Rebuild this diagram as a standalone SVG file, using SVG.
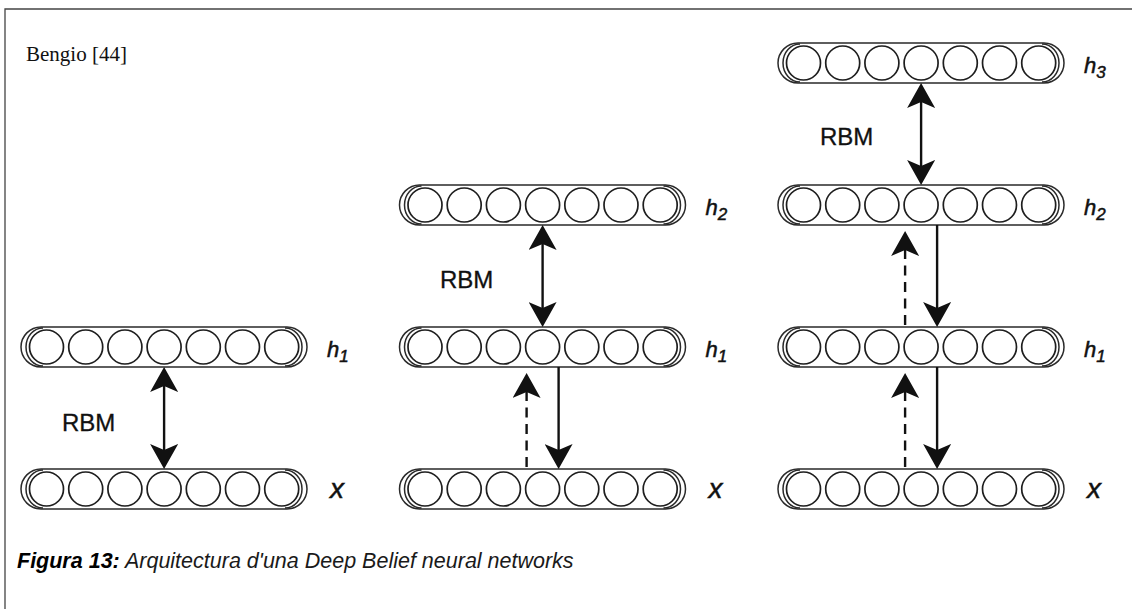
<svg xmlns="http://www.w3.org/2000/svg" xmlns:xlink="http://www.w3.org/1999/xlink" width="1132" height="609" viewBox="0 0 1132 609">
  <style>
    .frame { fill: none; stroke: #444; stroke-width: 1.3; }
    .pill { fill: none; stroke: #2a2a2a; stroke-width: 1.5; }
    .unit { fill: none; stroke: #1e1e1e; stroke-width: 1.7; }
    .link { fill: none; stroke: #111; stroke-width: 2.4; }
    .dashed { stroke-dasharray: 10 6.5; }
    .lbl { font-family: "Liberation Sans", Arial, sans-serif; font-style: italic; fill: #111; stroke: #111; stroke-width: 0.5; }
    .rbm { font-family: "Liberation Sans", Arial, sans-serif; font-size: 24px; fill: #111; stroke: #111; stroke-width: 0.3; }
    .cite { font-family: "Liberation Serif", "Times New Roman", serif; font-size: 21px; fill: #111; }
    .caption { font-family: "Liberation Sans", Arial, sans-serif; font-size: 21.5px; font-style: italic; fill: #1a1a1a; }
  </style>
  <defs>
    <!-- one layer of seven units inside a rounded bar; origin at left end, vertical centre -->
    <g id="layer">
      <rect class="pill" x="0" y="-20" width="286" height="40" rx="20" ry="20"/>
      <path class="pill" d="M22,-19 A17,19 0 0 0 22,19 M264,-19 A17,19 0 0 1 264,19"/>
      <circle class="unit" cx="25.5" cy="0" r="17"/>
      <circle class="unit" cx="64.7" cy="0" r="17"/>
      <circle class="unit" cx="103.9" cy="0" r="17"/>
      <circle class="unit" cx="143.1" cy="0" r="17"/>
      <circle class="unit" cx="182.3" cy="0" r="17"/>
      <circle class="unit" cx="221.5" cy="0" r="17"/>
      <circle class="unit" cx="260.7" cy="0" r="17"/>
    </g>
    <marker id="head" viewBox="0 0 25 28" refX="6" refY="14" markerWidth="25" markerHeight="28" markerUnits="userSpaceOnUse" orient="auto-start-reverse">
      <path d="M0,0 L25,14 L0,28 L6,14 Z" fill="#111"/>
    </marker>
  </defs>

  <rect width="1132" height="609" fill="#fff"/>
  <path class="frame" d="M5,609 V9 H1132"/>

  <text class="cite" x="26" y="61">Bengio [44]</text>

  <!-- first stack: x and h1 -->
  <g id="s1-h1">
    <use xlink:href="#layer" x="21" y="347"/>
    <text class="lbl" x="327" y="357" font-size="22">h<tspan font-size="17" dy="5">1</tspan></text>
  </g>
  <g id="s1-x">
    <use xlink:href="#layer" x="21" y="489"/>
    <text class="lbl" x="330" y="498" font-size="28">x</text>
  </g>

  <!-- second stack: x, h1, h2 -->
  <g id="s2-h2">
    <use xlink:href="#layer" x="399.5" y="205"/>
    <text class="lbl" x="705.5" y="215" font-size="22">h<tspan font-size="17" dy="5">2</tspan></text>
  </g>
  <g id="s2-h1">
    <use xlink:href="#layer" x="399.5" y="347"/>
    <text class="lbl" x="705.5" y="357" font-size="22">h<tspan font-size="17" dy="5">1</tspan></text>
  </g>
  <g id="s2-x">
    <use xlink:href="#layer" x="399.5" y="489"/>
    <text class="lbl" x="708.5" y="498" font-size="28">x</text>
  </g>

  <!-- third stack: x, h1, h2, h3 -->
  <g id="s3-h3">
    <use xlink:href="#layer" x="778" y="63"/>
    <text class="lbl" x="1084" y="73" font-size="22">h<tspan font-size="17" dy="5">3</tspan></text>
  </g>
  <g id="s3-h2">
    <use xlink:href="#layer" x="778" y="205"/>
    <text class="lbl" x="1084" y="215" font-size="22">h<tspan font-size="17" dy="5">2</tspan></text>
  </g>
  <g id="s3-h1">
    <use xlink:href="#layer" x="778" y="347"/>
    <text class="lbl" x="1084" y="357" font-size="22">h<tspan font-size="17" dy="5">1</tspan></text>
  </g>
  <g id="s3-x">
    <use xlink:href="#layer" x="778" y="489"/>
    <text class="lbl" x="1087" y="498" font-size="28">x</text>
  </g>

  <!-- connections between layers -->
  <g id="connectors">
    <line class="link" x1="164.1" y1="386" x2="164.1" y2="450" marker-start="url(#head)" marker-end="url(#head)"/>
    <text class="rbm" x="62" y="431">RBM</text>

    <line class="link" x1="542.6" y1="244" x2="542.6" y2="308" marker-start="url(#head)" marker-end="url(#head)"/>
    <text class="rbm" x="440" y="288">RBM</text>
    <line class="link" x1="558.6" y1="367" x2="558.6" y2="450" marker-end="url(#head)"/>
    <line class="link dashed" x1="526.6" y1="467" x2="526.6" y2="392" marker-end="url(#head)"/>

    <line class="link" x1="921.1" y1="102" x2="921.1" y2="166" marker-start="url(#head)" marker-end="url(#head)"/>
    <text class="rbm" x="820" y="145">RBM</text>
    <line class="link" x1="937.1" y1="225" x2="937.1" y2="308" marker-end="url(#head)"/>
    <line class="link dashed" x1="905.1" y1="325" x2="905.1" y2="250" marker-end="url(#head)"/>
    <line class="link" x1="937.1" y1="367" x2="937.1" y2="450" marker-end="url(#head)"/>
    <line class="link dashed" x1="905.1" y1="467" x2="905.1" y2="392" marker-end="url(#head)"/>
  </g>

  <text class="caption" x="17" y="568"><tspan font-weight="bold" fill="#000">Figura 13:</tspan> Arquitectura d'una Deep Belief neural networks</text>
</svg>
